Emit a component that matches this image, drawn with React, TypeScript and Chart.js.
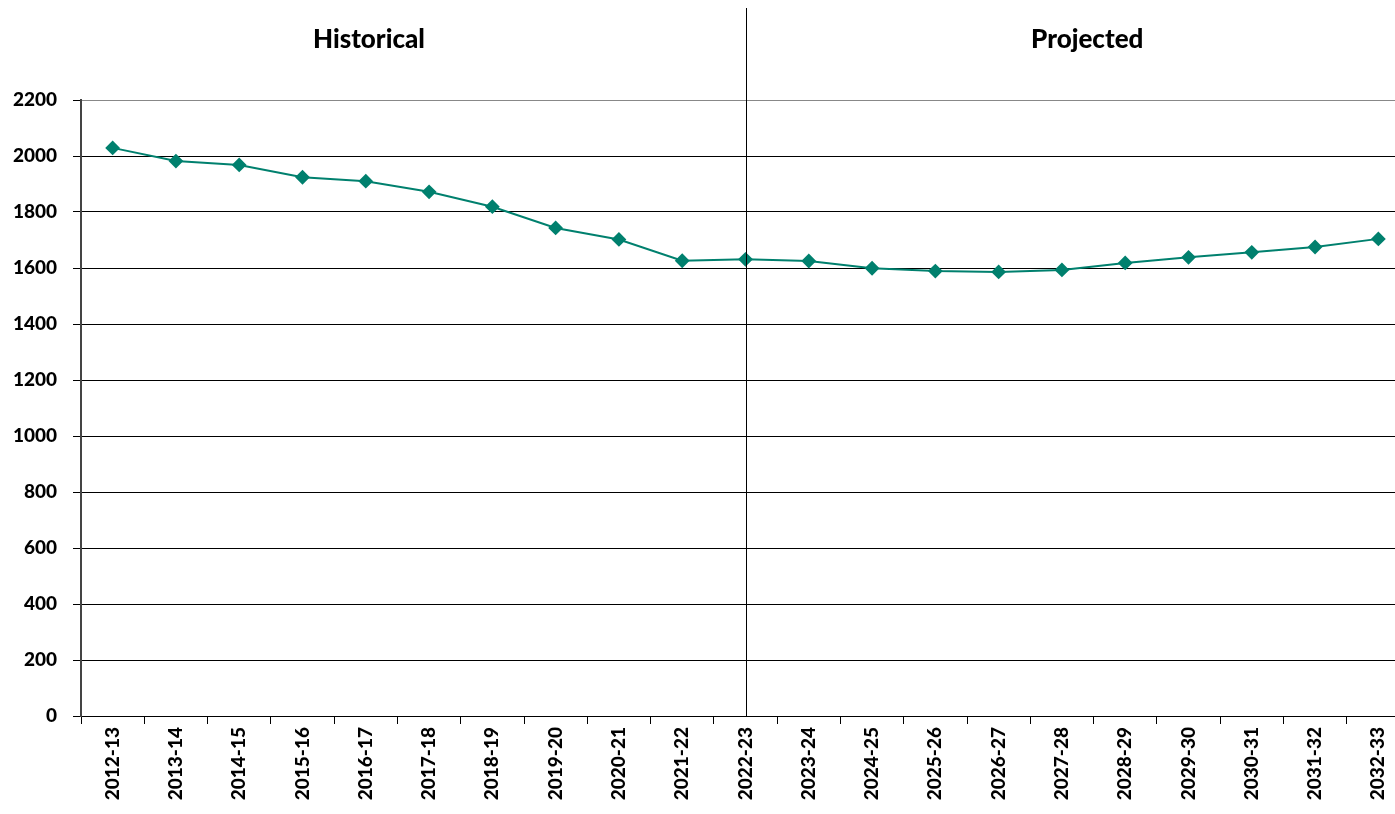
import React, { useEffect, useRef } from "react";
import { Chart, registerables } from "chart.js";

Chart.register(...registerables);

const categories = [
  "2012-13", "2013-14", "2014-15", "2015-16", "2016-17", "2017-18", "2018-19",
  "2019-20", "2020-21", "2021-22", "2022-23", "2023-24", "2024-25", "2025-26",
  "2026-27", "2027-28", "2028-29", "2029-30", "2030-31", "2031-32", "2032-33",
];
const values = [
  2029, 1982, 1968, 1924, 1910, 1872, 1819, 1743, 1702, 1626, 1631,
  1625, 1599, 1589, 1586, 1593, 1618, 1638, 1656, 1675, 1704,
];
const yTicks = [0, 200, 400, 600, 800, 1000, 1200, 1400, 1600, 1800, 2000, 2200];
const dividerIndex = 10;
const headerLeft = "Historical";
const headerRight = "Projected";

const FONT = "Lato, 'Open Sans', sans-serif";
const LINE_COLOR = "#00806E";

const overlayPlugin = {
  id: "overlay",
  afterDraw(chart: any) {
    const { ctx, scales } = chart;
    const x = scales.x.getPixelForValue(dividerIndex);
    const bottom = chart.chartArea.bottom;
    ctx.save();
    ctx.strokeStyle = "#000";
    ctx.lineWidth = 1;
    ctx.beginPath();
    ctx.moveTo(Math.round(x) + 0.5, 8);
    ctx.lineTo(Math.round(x) + 0.5, bottom);
    ctx.stroke();
    ctx.fillStyle = "#000";
    ctx.font = "900 26px " + FONT;
    ctx.textAlign = "center";
    ctx.textBaseline = "middle";
    ctx.fillText(headerLeft, scales.x.getPixelForValue(4.05), 40);
    ctx.fillText(headerRight, scales.x.getPixelForValue(15.4), 40);
    ctx.restore();
  },
};

export default function App() {
  const ref = useRef<HTMLCanvasElement>(null);
  useEffect(() => {
    if (!ref.current) return;
    const chart = new Chart(ref.current, {
      type: "line",
      data: {
        labels: categories,
        datasets: [
          {
            data: values,
            borderColor: LINE_COLOR,
            backgroundColor: LINE_COLOR,
            borderWidth: 2,
            pointStyle: "rectRot",
            pointRadius: 6,
            pointHoverRadius: 6,
            pointBackgroundColor: LINE_COLOR,
            pointBorderColor: LINE_COLOR,
            tension: 0,
          },
        ],
      },
      options: {
        responsive: false,
        animation: false,
        layout: { padding: { top: 100, right: 10, left: 0, bottom: 0 } },
        plugins: { legend: { display: false }, tooltip: { enabled: false } },
        scales: {
          x: {
            type: "category",
            offset: true,
            grid: {
              offset: true,
              drawOnChartArea: false,
              drawTicks: true,
              tickLength: 8,
              color: "#000",
            },
            border: { color: "#000", width: 1 },
            ticks: {
              color: "#000",
              font: { family: FONT, size: 19, weight: "900" },
              maxRotation: 90,
              minRotation: 90,
              padding: 3,
              autoSkip: false,
            },
            afterFit(scale: any) {
              scale.height = 98;
            },
          },
          y: {
            min: 0,
            max: 2200,
            afterBuildTicks(scale: any) {
              scale.ticks = yTicks.map((v) => ({ value: v }));
            },
            grid: {
              color: (c: any) => (c.tick && c.tick.value === 2200 ? "#888" : "#000"),
              tickColor: "#000",
              tickLength: 8,
              lineWidth: 1,
            },
            border: { color: "#444", width: 2 },
            ticks: {
              color: "#000",
              font: { family: FONT, size: 19, weight: "900" },
              padding: 16,
              callback: (v: any) => String(v),
            },
            afterFit(scale: any) {
              scale.width = 81;
            },
          },
        },
      },
      plugins: [overlayPlugin],
    });
    return () => chart.destroy();
  }, []);
  return (
    <div
      style={{
        position: "absolute",
        left: 0,
        top: 0,
        width: 1395,
        height: 814,
        overflow: "hidden",
        background: "#fff",
      }}
    >
      <canvas ref={ref} width={1420} height={814} style={{ display: "block", width: 1420, height: 814 }} />
    </div>
  );
}
